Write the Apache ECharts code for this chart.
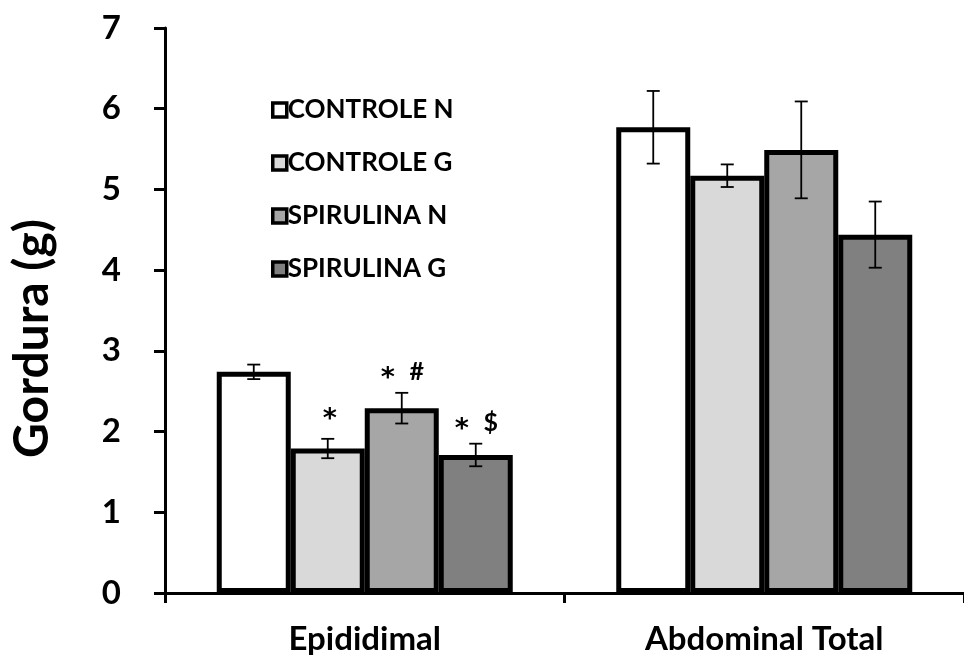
<!DOCTYPE html>
<html>
<head>
<meta charset="utf-8">
<script src="https://cdn.jsdelivr.net/npm/echarts@6/dist/echarts.min.js"></script>
<style>
  html, body { margin: 0; padding: 0; background: #fff; }
  #main { width: 964px; height: 659px; }
</style>
</head>
<body>
<div id="main"></div>
<script>
// data
const categories = ['Epididimal', 'Abdominal Total'];
const groupNames = ['CONTROLE N', 'CONTROLE G', 'SPIRULINA N', 'SPIRULINA G'];
const controleN = [2.74, 5.77];
const controleG = [1.79, 5.17];
const spirulinaN = [2.29, 5.49];
const spirulinaG = [1.71, 4.44];
const errControleN = [0.09, 0.45];
const errControleG = [0.12, 0.14];
const errSpirulinaN = [0.19, 0.60];
const errSpirulinaG = [0.14, 0.41];
// significance marks per category, one per group
const marksEpididimal = ['', '*', '* #', '* $'];
const marksAbdominal = ['', '', '', ''];
const yTicks = [0, 1, 2, 3, 4, 5, 6, 7];

const FONT = 'Lato, "Open Sans", sans-serif';
const BAR_W = 74;
const colors = ['#ffffff', '#d9d9d9', '#a6a6a6', '#808080'];

const means = [controleN, controleG, spirulinaN, spirulinaG];
const errs = [errControleN, errControleG, errSpirulinaN, errSpirulinaG];
const marks = [marksEpididimal, marksAbdominal];

const errData = [];
means.forEach((m, s) => {
  m.forEach((v, c) => {
    errData.push([c, v - errs[s][c], v + errs[s][c], s, marks[c][s]]);
  });
});

const chart = echarts.init(document.getElementById('main'));

const barSeries = groupNames.map((name, i) => ({
  name: name,
  type: 'bar',
  barWidth: BAR_W,
  barGap: '0%',
  data: means[i],
  itemStyle: {color: colors[i], borderColor: '#000', borderWidth: 5},
  emphasis: {disabled: true},
  z: 2
}));

// one glyph of a mark ("*", "#", "$")
function markText(ch, x, y) {
  const star = ch === '*';
  return {
    type: 'text',
    style: {
      text: ch,
      x: x,
      y: star ? y + 7 : y,
      align: 'center',
      verticalAlign: 'middle',
      fontFamily: star ? '"DejaVu Sans", sans-serif' : FONT,
      fontWeight: 'bold',
      fontSize: star ? 27 : 25,
      fill: '#000'
    }
  };
}

const option = {
  animation: false,
  textStyle: {fontFamily: FONT},
  grid: {left: 165, right: -5, top: 28, bottom: 66, containLabel: false},
  legend: {
    orient: 'vertical',
    left: 266,
    top: 92,
    itemGap: 27,
    itemWidth: 14,
    itemHeight: 14,
    icon: 'rect',
    itemStyle: {borderColor: '#000', borderWidth: 3.5},
    textStyle: {fontFamily: FONT, fontWeight: 'bold', fontSize: 26, color: '#000', lineHeight: 26, padding: [0, 0, 0, -4]},
    data: groupNames
  },
  xAxis: {
    type: 'category',
    data: categories,
    axisLine: {lineStyle: {color: '#000', width: 3}},
    axisTick: {show: true, length: 10, lineStyle: {color: '#000', width: 3}},
    axisLabel: {color: '#000', fontFamily: FONT, fontWeight: 'bold', fontSize: 33, margin: 30}
  },
  yAxis: {
    type: 'value',
    min: yTicks[0],
    max: yTicks[yTicks.length - 1],
    interval: 1,
    name: 'Gordura (g)',
    nameLocation: 'middle',
    nameGap: 108,
    nameTextStyle: {color: '#000', fontFamily: FONT, fontWeight: 'bold', fontSize: 48, padding: [0, 56, 0, 0]},
    splitLine: {show: false},
    axisLine: {show: true, lineStyle: {color: '#000', width: 3}},
    axisTick: {show: true, length: 11, lineStyle: {color: '#000', width: 3}},
    axisLabel: {color: '#000', fontFamily: FONT, fontWeight: 'bold', fontSize: 33, margin: 44}
  },
  series: barSeries.concat([{
    type: 'custom',
    name: 'err',
    z: 5,
    silent: true,
    data: errData,
    renderItem: function (params, api) {
      const c = api.value(0);
      const s = api.value(3);
      const x = api.coord([c, 0])[0] + (s - 1.5) * BAR_W;
      const yLo = api.coord([c, api.value(1)])[1];
      const yHi = api.coord([c, api.value(2)])[1];
      const cap = 6.5;
      const st = {stroke: '#000', lineWidth: 1.8};
      const children = [
        {type: 'line', shape: {x1: x, y1: yLo, x2: x, y2: yHi}, style: st},
        {type: 'line', shape: {x1: x - cap, y1: yLo, x2: x + cap, y2: yLo}, style: st},
        {type: 'line', shape: {x1: x - cap, y1: yHi, x2: x + cap, y2: yHi}, style: st}
      ];
      const mark = errData[params.dataIndex][4];
      if (mark) {
        const parts = mark.split(' ');
        if (parts.length === 1) {
          children.push(markText(parts[0], x + 2, yHi - 26));
        } else {
          children.push(markText(parts[0], x - 14, yHi - 21));
          children.push(markText(parts[1], x + 15, yHi - 21));
        }
      }
      return {type: 'group', children: children};
    }
  }])
};

chart.setOption(option);
</script>
</body>
</html>
